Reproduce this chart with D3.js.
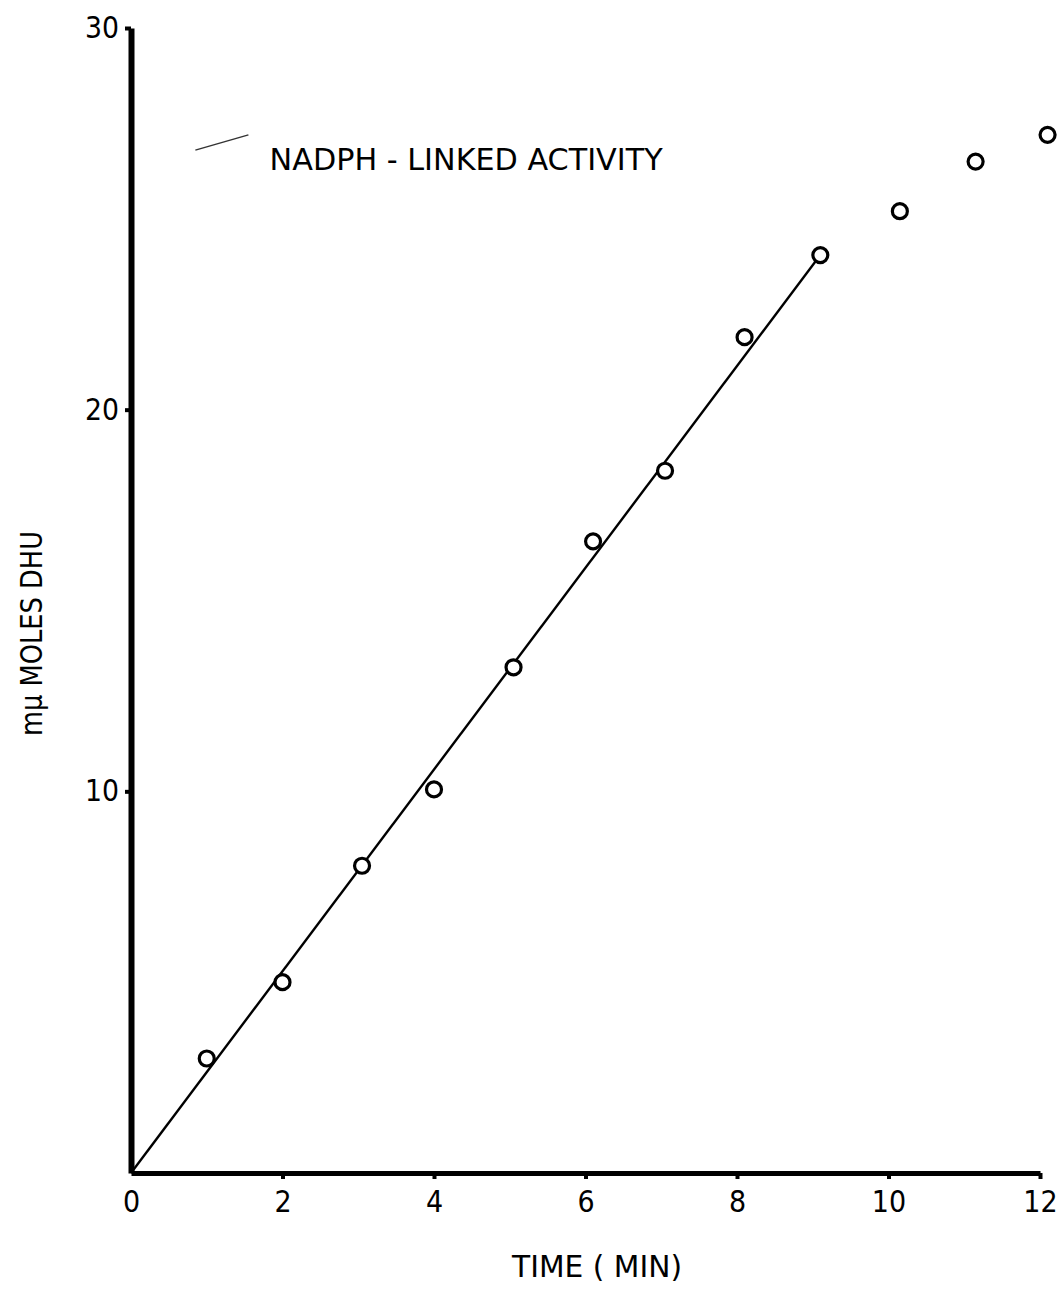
<!DOCTYPE html>
<html>
<head>
<meta charset="utf-8">
<script src="https://cdn.jsdelivr.net/npm/d3@7"></script>
<style>
  body { margin: 0; background: #fff; }
  text { font-family: "DejaVu Sans", sans-serif; fill: #000; }
</style>
</head>
<body>
<svg id="chart" width="1063" height="1289"></svg>
<script>
// values
var timeMin = [1, 2, 3.05, 4, 5.05, 6.1, 7.05, 8.1, 9.1, 10.15, 11.15, 12.1];
var dhu = [3.0, 5.0, 8.05, 10.05, 13.25, 16.55, 18.4, 21.9, 24.05, 25.2, 26.5, 27.2];
var fitLine = [[0, 0], [9.1, 24.05]];
var xTicks = [0, 2, 4, 6, 8, 10, 12];
var yTicks = [10, 20, 30];
var titleText = "NADPH - LINKED ACTIVITY";
var xLabel = "TIME ( MIN)";
var yLabel = "mμ MOLES DHU";

var svg = d3.select("#chart");

var x = d3.scaleLinear().domain([0, 12]).range([131, 1040]);
var y = d3.scaleLinear().domain([0, 30]).range([1173, 28]);

// axes - thick hand drawn style
var xAxis = d3.axisBottom(x).tickValues(xTicks).tickSize(6).tickPadding(10).tickSizeOuter(0);
var gx = svg.append("g").attr("transform", "translate(0," + y(0) + ")").call(xAxis);
gx.select(".domain").attr("stroke", "#000").attr("stroke-width", 5);
gx.selectAll(".tick line").attr("stroke", "#000").attr("stroke-width", 4);
gx.selectAll(".tick text").style("font-size", "30px").attr("dy", "0.78em")
    .attr("transform", "scale(0.9,1)");
gx.selectAll(".tick").filter(function(d) { return d === 0; }).select("line").remove();

var yAxis = d3.axisLeft(y).tickValues(yTicks).tickSize(6).tickPadding(6).tickSizeOuter(0);
var gy = svg.append("g").attr("transform", "translate(" + x(0) + ",0)").call(yAxis);
gy.select(".domain").attr("stroke", "#000").attr("stroke-width", 6);
gy.selectAll(".tick line").attr("stroke", "#000").attr("stroke-width", 4);
gy.selectAll(".tick text").style("font-size", "30px").attr("textLength", 34)
    .attr("lengthAdjust", "spacingAndGlyphs");

// fitted line
var line = d3.line().x(function(d) { return x(d[0]); }).y(function(d) { return y(d[1]); });
svg.append("path")
    .attr("d", line(fitLine))
    .attr("fill", "none")
    .attr("stroke", "#000")
    .attr("stroke-width", 2.4);

// points
svg.selectAll("circle.pt")
    .data(timeMin)
    .enter()
    .append("circle")
    .attr("class", "pt")
    .attr("cx", function(d) { return x(d); })
    .attr("cy", function(d, i) { return y(dhu[i]); })
    .attr("r", 7.5)
    .attr("fill", "#fff")
    .attr("stroke", "#000")
    .attr("stroke-width", 3.2);

// stray pen stroke near the title
svg.append("path")
    .attr("d", line([[0.85, 26.8], [1.55, 27.2]]))
    .attr("fill", "none")
    .attr("stroke", "#333")
    .attr("stroke-width", 1.5);

svg.append("text")
    .attr("x", x(1.83))
    .attr("y", y(26.28))
    .style("font-size", "30px")
    .attr("textLength", 393)
    .attr("lengthAdjust", "spacingAndGlyphs")
    .text(titleText);

svg.append("text")
    .attr("x", 512)
    .attr("y", 1277)
    .style("font-size", "30px")
    .attr("textLength", 170)
    .attr("lengthAdjust", "spacingAndGlyphs")
    .text(xLabel);

svg.append("text")
    .attr("transform", "translate(42," + y(11.45) + ") rotate(-90)")
    .style("font-size", "30px")
    .attr("textLength", 205)
    .attr("lengthAdjust", "spacingAndGlyphs")
    .text(yLabel);
</script>
</body>
</html>
